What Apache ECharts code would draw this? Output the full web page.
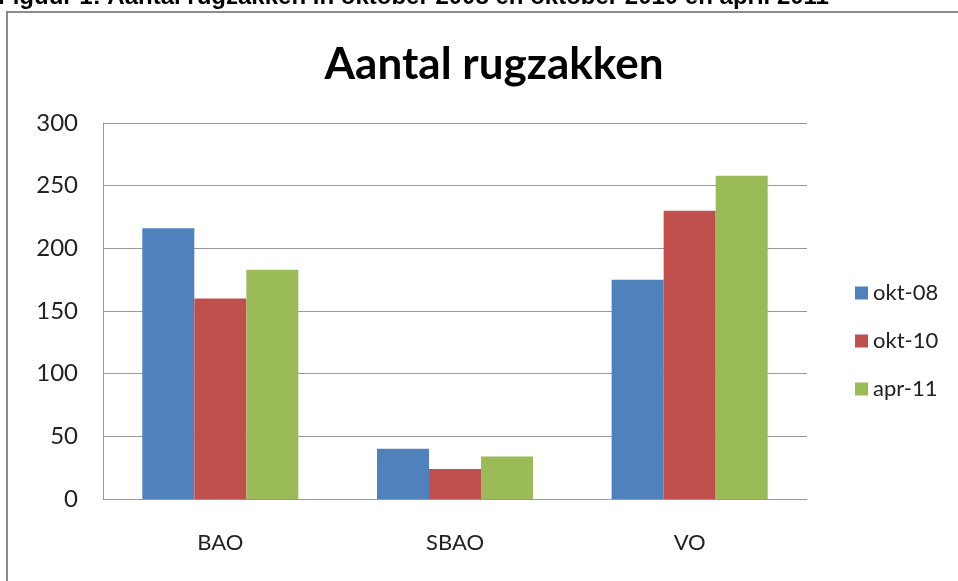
<!DOCTYPE html>
<html>
<head>
<meta charset="utf-8">
<script src="https://cdn.jsdelivr.net/npm/echarts@6/dist/echarts.min.js"></script>
<style>
  html, body { margin: 0; padding: 0; background: #fff; }
  #chart { width: 958px; height: 581px; }
</style>
</head>
<body>
<div id="chart"></div>
<script>
const categories = ['BAO', 'SBAO', 'VO'];
const seriesNames = ['okt-08', 'okt-10', 'apr-11'];
const okt08 = [216, 40, 175];
const okt10 = [160, 24, 230];
const apr11 = [183, 34, 258];
const colors = ['#4f81bd', '#c0504d', '#9bbb59'];

const chart = echarts.init(document.getElementById('chart'));
const font = 'Lato, "Open Sans", sans-serif';

const makeBar = (name, values, color) => ({
  name,
  type: 'bar',
  data: values,
  barGap: '0%',
  barCategoryGap: '33.5%',
  itemStyle: { color },
  emphasis: { disabled: true }
});

chart.setOption({
  animation: false,
  backgroundColor: '#fff',
  color: colors,
  title: {
    text: 'Aantal rugzakken',
    left: 489,
    textAlign: 'center',
    top: 38,
    textStyle: { fontFamily: font, fontSize: 44, fontWeight: 'bold', color: '#000' }
  },
  graphic: [
    {
      type: 'text',
      left: -2,
      top: -15,
      style: {
        text: 'Figuur 1: Aantal rugzakken in oktober 2008 en oktober 2010 en april 2011',
        font: 'bold 24px "Liberation Sans", Arial, sans-serif',
        fill: '#000'
      }
    },
    {
      type: 'rect',
      shape: { x: 7, y: 12, width: 960, height: 600 },
      style: { fill: 'none', stroke: '#8c8c8c', lineWidth: 2 }
    }
  ],
  legend: {
    orient: 'vertical',
    left: 850,
    top: 277,
    itemWidth: 13,
    itemHeight: 13,
    itemGap: 26,
    icon: 'rect',
    data: seriesNames,
    textStyle: { fontFamily: font, fontSize: 22, color: '#222' }
  },
  grid: { left: 103, top: 123, right: 151, bottom: 82 },
  xAxis: {
    type: 'category',
    data: categories,
    axisLine: { lineStyle: { color: '#999', width: 1 } },
    axisTick: { show: false },
    axisLabel: { margin: 33, fontFamily: font, fontSize: 22, color: '#222' }
  },
  yAxis: {
    type: 'value',
    min: 0,
    max: 300,
    interval: 50,
    axisLine: { show: true, lineStyle: { color: '#999', width: 1 } },
    axisTick: { show: false },
    splitLine: { lineStyle: { color: '#999', width: 1 } },
    axisLabel: { margin: 25, fontFamily: font, fontSize: 24, color: '#222' }
  },
  series: [
    makeBar(seriesNames[0], okt08, colors[0]),
    makeBar(seriesNames[1], okt10, colors[1]),
    makeBar(seriesNames[2], apr11, colors[2])
  ]
});
</script>
</body>
</html>
